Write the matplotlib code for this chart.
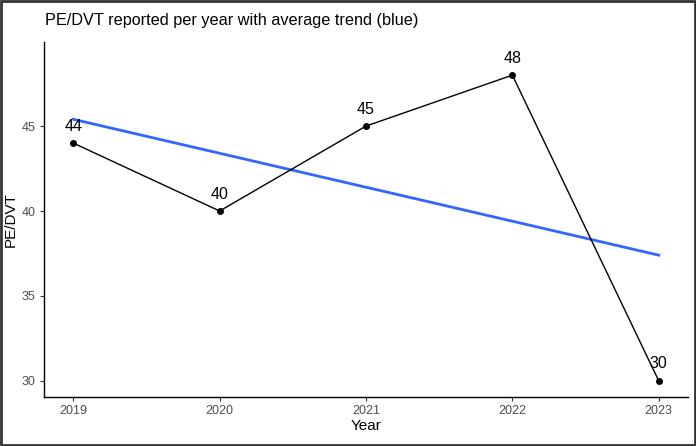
import numpy as np
import matplotlib.pyplot as plt
from matplotlib.patches import Rectangle

plt.rcParams['font.family'] = ['Liberation Sans', 'DejaVu Sans']

years = [2019, 2020, 2021, 2022, 2023]
cases = [44, 40, 45, 48, 30]
label_nudge = 1.0

fig = plt.figure(figsize=(6.96, 4.46), dpi=100)
ax = fig.add_axes([0.0632, 0.1099, 0.9253, 0.7959])

# trend line (least squares)
slope, icpt = np.polyfit(years, cases, 1)
xs = np.array([years[0], years[-1]])
ax.plot(xs, icpt + slope * xs, color='#3366FF', lw=2.0, zorder=2)

ax.plot(years, cases, color='black', lw=1.0, zorder=3)
ax.scatter(years, cases, color='black', s=16, zorder=4)
for x, y in zip(years, cases):
    ax.text(x, y + label_nudge, str(y), ha='center', va='center', fontsize=11.5, color='black')

ax.set_xlim(2018.8, 2023.2)
ax.set_ylim(29.05, 49.95)
ax.set_xticks(years)
ax.set_yticks([30, 35, 40, 45])
for s in ['top', 'right']:
    ax.spines[s].set_visible(False)
for s in ['left', 'bottom']:
    ax.spines[s].set_linewidth(1.0)
ax.tick_params(colors='#333333', labelcolor='#4D4D4D', labelsize=9, length=3, width=0.8, pad=3)
ax.set_xlabel('Year', fontsize=11, labelpad=1)
ax.set_ylabel('PE/DVT', fontsize=11, labelpad=3)

fig.text(0.065, 0.953, 'PE/DVT reported per year with average trend (blue)', fontsize=11.7, ha='left', va='center')

fig.patches.append(Rectangle((0.001, 0.002), 0.997, 0.995, transform=fig.transFigure,
                             fill=False, edgecolor='#333333', lw=2))

fig.savefig('out.png', dpi=100)
